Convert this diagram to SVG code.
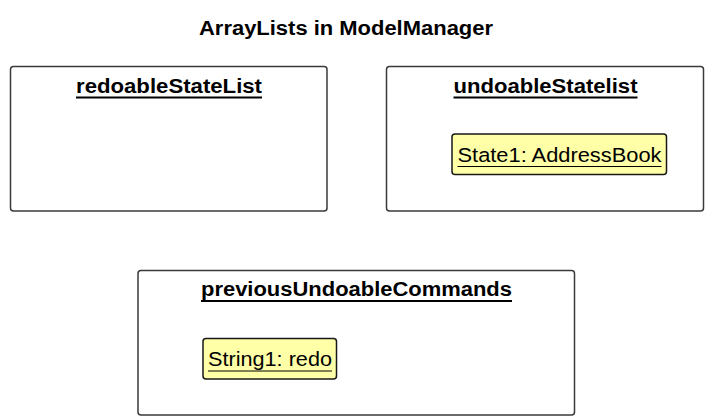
<svg xmlns="http://www.w3.org/2000/svg" width="713" height="420" viewBox="0 0 713 420">
<style>
.frame{fill:#ffffff;stroke:#3a3a3a;stroke-width:1.5}
.obj{fill:#ffffa8;stroke:#181818;stroke-width:1.5}
.title{font-family:"Liberation Sans",Arial,sans-serif;font-weight:bold;font-size:20px;fill:#000}
.label{font-family:"Liberation Sans",Arial,sans-serif;font-size:20.5px;fill:#000}
.ul{stroke:#000;stroke-width:2}
.ul1{stroke:#000;stroke-width:1.2}
</style>
<text class="title" x="199" y="34.5" textLength="294" lengthAdjust="spacingAndGlyphs">ArrayLists in ModelManager</text>
<g id="redoableStateList">
<rect class="frame" x="10.5" y="66.5" width="316.5" height="144.5" rx="3"/>
<text class="title" x="76" y="93" textLength="186" lengthAdjust="spacingAndGlyphs">redoableStateList</text>
<line class="ul" x1="76" y1="97.5" x2="262" y2="97.5"/>
</g>
<g id="undoableStatelist">
<rect class="frame" x="386.5" y="66.5" width="317" height="144.5" rx="3"/>
<text class="title" x="453.5" y="92.5" textLength="184" lengthAdjust="spacingAndGlyphs">undoableStatelist</text>
<line class="ul" x1="453.5" y1="97.5" x2="637.5" y2="97.5"/>
</g>
<g id="State1">
<rect class="obj" x="452" y="134" width="214.5" height="40.5" rx="3"/>
<text class="label" x="457.5" y="162" textLength="204" lengthAdjust="spacingAndGlyphs">State1: AddressBook</text>
<line class="ul1" x1="457.5" y1="166.5" x2="661.5" y2="166.5"/>
</g>
<g id="previousUndoableCommands">
<rect class="frame" x="138" y="270.5" width="436.5" height="144.5" rx="3"/>
<text class="title" x="201" y="296" textLength="311" lengthAdjust="spacingAndGlyphs">previousUndoableCommands</text>
<line class="ul" x1="201" y1="301" x2="512" y2="301"/>
</g>
<g id="String1">
<rect class="obj" x="203" y="338.5" width="133.5" height="40.5" rx="3"/>
<text class="label" x="208" y="366" textLength="124" lengthAdjust="spacingAndGlyphs">String1: redo</text>
<line class="ul1" x1="208" y1="371" x2="332" y2="371"/>
</g>
<g id="connectors"></g>
</svg>
